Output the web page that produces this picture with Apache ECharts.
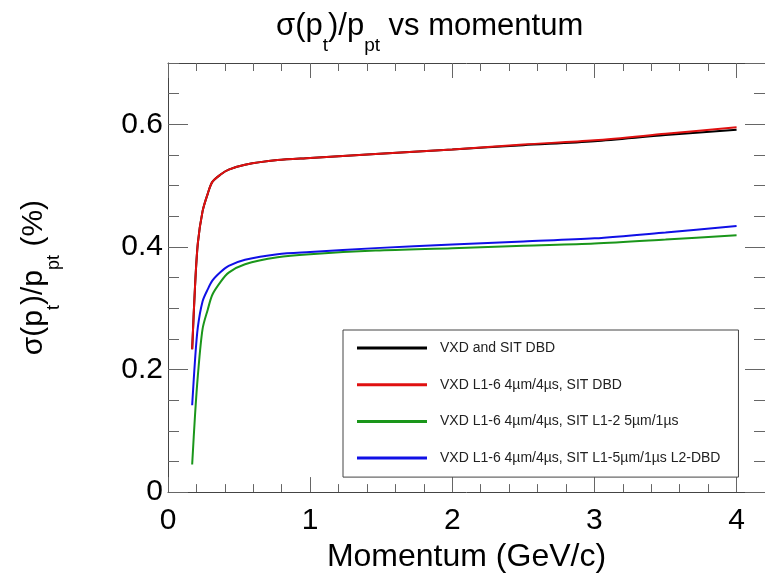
<!DOCTYPE html>
<html>
<head>
<meta charset="utf-8">
<script src="https://cdn.jsdelivr.net/npm/echarts@6/dist/echarts.min.js"></script>
<style>html,body{margin:0;padding:0;background:#fff;}#chart{width:765px;height:578px;}</style>
</head>
<body>
<div id="chart"></div>
<script>
// ---- data ----
var momentum = [0.17, 0.19, 0.21, 0.243, 0.28, 0.312, 0.37, 0.427, 0.542, 0.771, 1.0, 1.46, 2.0, 2.5, 3.0, 3.5, 4.0];
var vxdSitDbd = [0.233, 0.335, 0.406, 0.458, 0.487, 0.506, 0.518, 0.526, 0.534, 0.5416, 0.545, 0.5516, 0.559, 0.566, 0.5725, 0.5825, 0.591];
var vxd4SitDbd = [0.233, 0.335, 0.406, 0.458, 0.487, 0.506, 0.518, 0.526, 0.534, 0.5416, 0.545, 0.5516, 0.559, 0.567, 0.574, 0.5845, 0.595];
var vxd4SitL12 = [0.045, 0.125, 0.19, 0.266, 0.298, 0.322, 0.343, 0.358, 0.3716, 0.383, 0.388, 0.394, 0.398, 0.402, 0.4055, 0.412, 0.419];
var vxd4SitL1L2 = [0.1416, 0.215, 0.269, 0.311, 0.331, 0.345, 0.359, 0.369, 0.379, 0.388, 0.3916, 0.398, 0.404, 0.409, 0.414, 0.4236, 0.434];
var seriesNames = [
  'VXD and SIT DBD',
  'VXD L1-6 4\u00b5m/4\u00b5s, SIT DBD',
  'VXD L1-6 4\u00b5m/4\u00b5s, SIT L1-2 5\u00b5m/1\u00b5s',
  'VXD L1-6 4\u00b5m/4\u00b5s, SIT L1-5\u00b5m/1\u00b5s L2-DBD'
];
var seriesValues = [vxdSitDbd, vxd4SitDbd, vxd4SitL12, vxd4SitL1L2];
var xMajorTicks = [0, 1, 2, 3, 4];
var yMajorTicks = [0, 0.2, 0.4, 0.6];

var FONT = 'Liberation Sans, Arial, sans-serif';
var colors = ['#000000', '#e01010', '#1a961a', '#1010e6'];

var titleRich = {
  m: {fontSize: 31, fontFamily: FONT, fontWeight: 'normal', color: '#000', lineHeight: 58},
  s: {fontSize: 19, fontFamily: FONT, fontWeight: 'normal', color: '#000', lineHeight: 19, verticalAlign: 'bottom'}
};
var nameRich = {
  m: {fontSize: 30, fontFamily: FONT, fontWeight: 'normal', color: '#000', lineHeight: 58},
  s: {fontSize: 18, fontFamily: FONT, fontWeight: 'normal', color: '#000', lineHeight: 18, verticalAlign: 'bottom'}
};

function xAx(pos, interval, len, main) {
  return {
    type: 'value', gridIndex: 0, position: pos, min: 0, max: 4.2, interval: interval,
    axisLine: {show: main, onZero: false, lineStyle: {color: '#444', width: 1}},
    axisTick: {show: true, inside: true, length: len, lineStyle: {color: '#666', width: 1}},
    axisLabel: {show: false},
    splitLine: {show: false}
  };
}
function yAx(pos, interval, len, main) {
  return {
    type: 'value', gridIndex: 0, position: pos, min: 0, max: 0.7, interval: interval,
    axisLine: {show: main, onZero: false, lineStyle: {color: '#444', width: 1}},
    axisTick: {show: true, inside: true, length: len, lineStyle: {color: '#666', width: 1}},
    axisLabel: {show: false},
    splitLine: {show: false}
  };
}

var xAxes = [xAx('bottom', 1, 15, true), xAx('bottom', 0.2, 8, false), xAx('top', 1, 15, true), xAx('top', 0.2, 8, false)];
xAxes[0].axisLabel = {
  show: true, fontSize: 30, fontFamily: FONT, color: '#000', margin: 14, showMaxLabel: false,
  formatter: function (v) { return xMajorTicks.indexOf(v) >= 0 ? String(v) : ''; }
};
xAxes[0].name = 'Momentum (GeV/c)';
xAxes[0].nameLocation = 'middle';
xAxes[0].nameGap = 42;
xAxes[0].nameTextStyle = {fontSize: 32, fontFamily: FONT, color: '#000'};

var yAxes = [yAx('left', 0.2, 20, true), yAx('left', 0.05, 11, false), yAx('right', 0.2, 20, true), yAx('right', 0.05, 11, false)];
yAxes[0].axisLabel = {
  show: true, fontSize: 30, fontFamily: FONT, color: '#000', margin: 5, showMaxLabel: false,
  formatter: function (v) { return yMajorTicks.indexOf(v) >= 0 ? (v === 0 ? '0' : v.toFixed(1)) : ''; }
};
yAxes[0].name = '{m|\u03c3(p}{s|t}{m|)/p}{s|pt}{m| (%)}';
yAxes[0].nameLocation = 'middle';
yAxes[0].nameRotate = 90;
yAxes[0].nameGap = 105;
yAxes[0].nameTextStyle = {rich: nameRich};

var series = seriesNames.map(function (name, k) {
  return {
    name: name, type: 'line', xAxisIndex: 0, yAxisIndex: 0,
    showSymbol: false, smooth: 0.3,
    lineStyle: {width: 2, color: colors[k]},
    itemStyle: {color: colors[k]},
    data: momentum.map(function (x, i) { return [x, seriesValues[k][i]]; })
  };
});

var chart = echarts.init(document.getElementById('chart'), null, {renderer: 'canvas'});
chart.setOption({
  animation: false,
  backgroundColor: '#fff',
  color: colors,
  title: {
    text: '{m|\u03c3(p}{s|t}{m|)/p}{s|pt}{m| vs momentum}',
    left: 276, top: -3, padding: 0,
    textStyle: {rich: titleRich, fontWeight: 'normal'}
  },
  grid: {left: 168, top: 63, width: 610, height: 444, containLabel: false},
  legend: {
    orient: 'vertical', left: 343, top: 330,
    padding: [10, 18, 11, 14],
    itemWidth: 70, itemHeight: 3, itemGap: 20.7, icon: 'rect',
    borderColor: '#444', borderWidth: 1, backgroundColor: '#fff',
    textStyle: {fontSize: 14, lineHeight: 16, fontFamily: FONT, color: '#222', padding: [0, 0, 0, 8]},
    data: seriesNames
  },
  xAxis: xAxes,
  yAxis: yAxes,
  series: series
});
</script>
</body>
</html>
